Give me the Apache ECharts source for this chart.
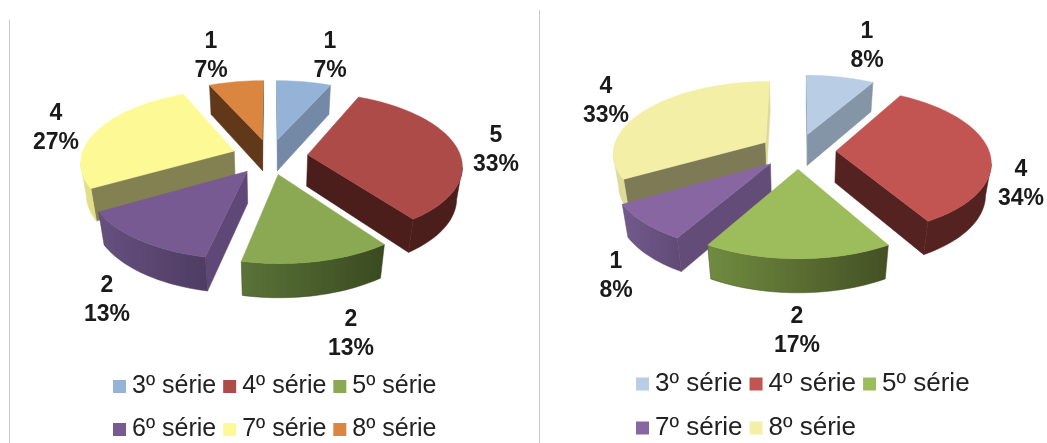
<!DOCTYPE html>
<html>
<head>
<meta charset="utf-8">
<style>html,body{margin:0;padding:0;background:#fff}#c{width:1047px;height:443px}</style>
<script src="https://cdn.jsdelivr.net/npm/echarts@6/dist/echarts.min.js"></script>
</head>
<body>
<div id="c"></div>
<script>
// ---- data ----
const categoriesLeft = ['3º série','4º série','5º série','6º série','7º série','8º série'];
const valuesLeft = [1,5,2,2,4,1];
const percentsLeft = ['7%','33%','13%','13%','27%','7%'];
const categoriesRight = ['3º série','4º série','5º série','7º série','8º série'];
const valuesRight = [1,4,2,1,4];
const percentsRight = ['8%','34%','17%','8%','33%'];

// ---- styles ----
const topLeft  = ['#95B3D7','#AD4B49','#8BA952','#775A91','#FDFA96','#DA8640'];
const cutLeft  = ['#7489A6','#4B1E1C','#566E33','#5F4877','#838152','#61391A'];
const cutEndLeft = cutLeft;
const rimLeft  = [['#7489A6','#7489A6'],['#4B1E1C','#4B1E1C'],['#5A7338','#3A4A20'],['#66507F','#4E3C62'],['#E2DF88','#E2DF88'],['#61391A','#61391A']];
const topRight = ['#B9CDE5','#C25552','#9DBC5B','#8866A1','#F4EFA6'];
const cutRight = ['#8595A8','#542221','#6E8A3E','#634C78','#7D7A55'];
const cutEndRight = ['#8595A8','#542221','#6E8A3E','#634C78','#DEDA98'];
const rimRight = [['#8595A8','#8595A8'],['#542221','#542221'],['#708C40','#445024'],['#735A8E','#5F4A74'],['#DEDA98','#DEDA98']];

// ---- layout ----
const labelPosLeft  = [[330,56],[496,150],[351,334],[107,300],[56,128],[211,56]];
const labelPosRight = [[867,46],[1021,184],[797,331],[616,276],[606,101]];
const legendLeftX = 113, legendRightX = 636;
const pieLeft  = {cx:270, cy:156.5};
const pieRight = {cx:798, cy:151};
const R = 153, EXPLODE = 38, B = 0.467, K = 0.0009, DEPTH = 32.5, M = 0.03;
const RAD = Math.PI/180;

function project(p, X, Y, bottom){
  const w = 1 + K*Y + (bottom ? M : 0);
  return [p.cx + X/w, p.cy - B*Y/w + (bottom ? DEPTH/w : 0)];
}

function makeSlices(pie, cats, vals, pcts, tops, cuts, cutEnds, rims, labels){
  const total = vals.reduce((a,b)=>a+b,0);
  let acc = 0;
  const items = vals.map((v,i)=>{
    const a0 = acc/total*360; acc += v; const a1 = acc/total*360;
    const mid = (a0+a1)/2;
    return {i,v,a0,a1,mid, ty: EXPLODE*Math.cos(mid*RAD), tx: EXPLODE*Math.sin(mid*RAD)};
  });
  const order = items.slice().sort((a,b)=>b.ty-a.ty);
  return items.map(it=>{
    const rank = order.indexOf(it);
    const i = it.i;
    return {
      type:'custom', name: cats[i], coordinateSystem:'none', silent:true,
      z: 2+rank, animation:false, itemStyle:{color:tops[i]},
      data:[[vals[i]]],
      renderItem:function(params, api){
        const span = api.value(0)/total*360;
        const start = it.a0;
        const rimPts = [];
        const steps = Math.max(4, Math.ceil(span/2));
        for(let s=0;s<=steps;s++){
          const t = (start + span*s/steps)*RAD;
          rimPts.push([it.tx + R*Math.sin(t), it.ty + R*Math.cos(t)]);
        }
        const tip = [it.tx, it.ty];
        const P = q=>project(pie,q[0],q[1],false);
        const Q = q=>project(pie,q[0],q[1],true);
        const children = [];
        const quad = (a,b,col)=>({type:'polygon',shape:{points:[P(a),P(b),Q(b),Q(a)]},
          style:{fill:col,stroke:col,lineWidth:0.5},silent:true});
        // radial cut faces
        if(P(rimPts[0])[0]-P(tip)[0] < 0) children.push(quad(tip,rimPts[0],cuts[i]));
        const last = rimPts[rimPts.length-1];
        if(P(tip)[0]-P(last)[0] < 0) children.push(quad(last,tip,cutEnds[i]));
        // outer rim: contiguous runs moving right-to-left on screen
        let run = [];
        const flush = ()=>{
          if(run.length>1){
            const pts = run.map(P).concat(run.slice().reverse().map(Q));
            children.push({type:'polygon',shape:{points:pts},silent:true,
              style:{stroke:rims[i][1],lineWidth:0.5,fill:{type:'linear',x:0,y:0,x2:1,y2:0,
                colorStops:[{offset:0,color:rims[i][0]},{offset:1,color:rims[i][1]}]}}});
          }
          run=[];
        };
        for(let s=0;s<rimPts.length-1;s++){
          if(P(rimPts[s+1])[0] < P(rimPts[s])[0]){
            if(!run.length) run.push(rimPts[s]);
            run.push(rimPts[s+1]);
          } else flush();
        }
        flush();
        // top face
        children.push({type:'polygon',shape:{points:[P(tip)].concat(rimPts.map(P))},silent:true,
          style:{fill:tops[i],stroke:tops[i],lineWidth:0.5}});
        // data label
        children.push({type:'text',x:labels[i][0],y:labels[i][1],silent:true,
          style:{text:api.value(0)+'\n'+pcts[i],fill:'#1a1a1a',font:'bold 23px "Liberation Sans", Arial, sans-serif',
            lineHeight:29.5,align:'center',verticalAlign:'middle'}});
        return {type:'group',children};
      }
    };
  });
}

function makeLegend(names, cats, tops, left, top, fontSize, gap, padTop){
  return {
    left, top, orient:'horizontal', selectedMode:false, icon:'rect',
    itemWidth:13, itemHeight:13, itemGap:gap, padding:0,
    textStyle:{fontFamily:'"Liberation Sans", Arial, sans-serif',fontSize,color:'#222',padding:[padTop,0,0,1]},
    data:names.map(n=>({name:n,itemStyle:{color:tops[cats.indexOf(n)]}}))
  };
}

const chart = echarts.init(document.getElementById('c'),null,{renderer:'canvas'});
chart.setOption({
  backgroundColor:'#fff',
  animation:false,
  legend:[
    makeLegend(categoriesLeft.slice(0,3),categoriesLeft,topLeft,legendLeftX,374,25,7,4),
    makeLegend(categoriesLeft.slice(3),categoriesLeft,topLeft,legendLeftX,417,25,7,4),
    makeLegend(categoriesRight.slice(0,3),categoriesRight,topRight,legendRightX,371,26,7,4),
    makeLegend(categoriesRight.slice(3),categoriesRight,topRight,legendRightX,415,26,7,4)
  ],
  graphic:[
    {type:'line',silent:true,shape:{x1:9.5,y1:20,x2:9.5,y2:443},style:{stroke:'#c8c8c8',lineWidth:1}},
    {type:'line',silent:true,shape:{x1:539.5,y1:10,x2:539.5,y2:443},style:{stroke:'#c8c8c8',lineWidth:1}}
  ],
  series:makeSlices(pieLeft,categoriesLeft,valuesLeft,percentsLeft,topLeft,cutLeft,cutEndLeft,rimLeft,labelPosLeft)
    .concat(makeSlices(pieRight,categoriesRight,valuesRight,percentsRight,topRight,cutRight,cutEndRight,rimRight,labelPosRight))
});
</script>
</body>
</html>
